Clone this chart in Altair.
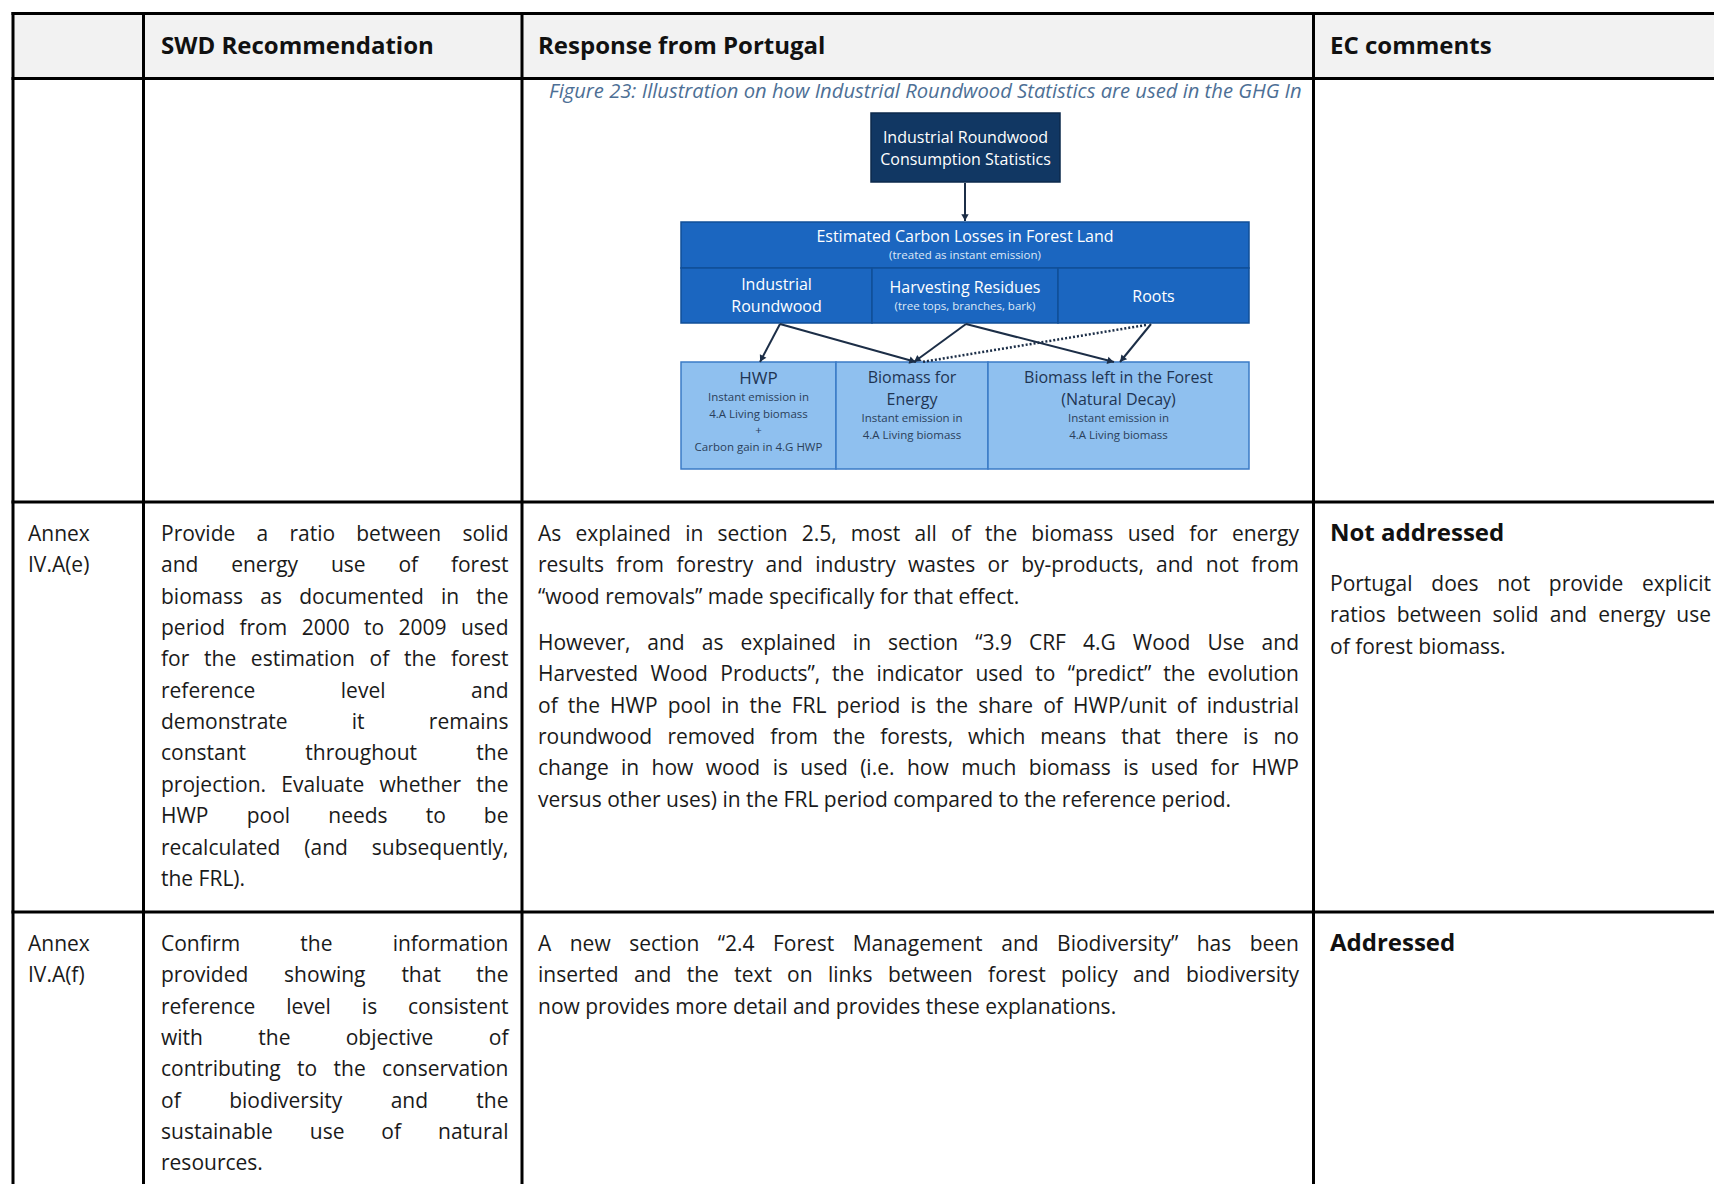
import math
import altair as alt
import pandas as pd

# ------------------------------------------------------------------
# Table content
# ------------------------------------------------------------------
headers = ["SWD Recommendation", "Response from Portugal", "EC comments"]

row_e_id = ["Annex", "IV.A(e)"]
row_e_rec = [
    "Provide a ratio between solid",
    "and energy use of forest",
    "biomass as documented in the",
    "period from 2000 to 2009 used",
    "for the estimation of the forest",
    "reference level and",
    "demonstrate it remains",
    "constant throughout the",
    "projection. Evaluate whether the",
    "HWP pool needs to be",
    "recalculated (and subsequently,",
    "the FRL).",
]
row_e_resp_p1 = [
    "As explained in section 2.5, most all of the biomass used for energy",
    "results from forestry and industry wastes or by-products, and not from",
    "\u201cwood removals\u201d made specifically for that effect.",
]
row_e_resp_p2 = [
    "However, and as explained in section \u201c3.9 CRF 4.G Wood Use and",
    "Harvested Wood Products\u201d, the indicator used to \u201cpredict\u201d the evolution",
    "of the HWP pool in the FRL period is the share of HWP/unit of industrial",
    "roundwood removed from the forests, which means that there is no",
    "change in how wood is used (i.e. how much biomass is used for HWP",
    "versus other uses) in the FRL period compared to the reference period.",
]
row_e_status = "Not addressed"
row_e_comment = [
    "Portugal does not provide explicit",
    "ratios between solid and energy use",
    "of forest biomass.",
]

row_f_id = ["Annex", "IV.A(f)"]
row_f_rec = [
    "Confirm the information",
    "provided showing that the",
    "reference level is consistent",
    "with the objective of",
    "contributing to the conservation",
    "of biodiversity and the",
    "sustainable use of natural",
    "resources.",
]
row_f_resp = [
    "A new section \u201c2.4 Forest Management and Biodiversity\u201d has been",
    "inserted and the text on links between forest policy and biodiversity",
    "now provides more detail and provides these explanations.",
]
row_f_status = "Addressed"

# Figure 23 embedded in the first row
caption = "Figure 23: Illustration on how Industrial Roundwood Statistics are used in the GHG In"
box_names = ["source", "losses", "cell_ir", "cell_hr", "cell_roots", "hwp", "energy", "left"]
box_kind = ["navy", "blue", "blue", "blue", "blue", "light", "light", "light"]
box_main_labels = [
    ["Industrial Roundwood", "Consumption Statistics"],
    ["Estimated Carbon Losses in Forest Land"],
    ["Industrial", "Roundwood"],
    ["Harvesting Residues"],
    ["Roots"],
    ["HWP"],
    ["Biomass for", "Energy"],
    ["Biomass left in the Forest", "(Natural Decay)"],
]
box_sub_labels = [
    [],
    ["(treated as instant emission)"],
    [],
    ["(tree tops, branches, bark)"],
    [],
    ["Instant emission in", "4.A Living biomass", "+", "Carbon gain in 4.G HWP"],
    ["Instant emission in", "4.A Living biomass"],
    ["Instant emission in", "4.A Living biomass"],
]
flows_from = ["source", "cell_ir", "cell_ir", "cell_hr", "cell_hr", "cell_roots", "cell_roots"]
flows_to = ["losses", "hwp", "energy", "energy", "left", "left", "energy"]
flows_dotted = [False, False, False, False, False, False, True]

# ------------------------------------------------------------------
# Layout (page pixel coordinates; chart origin is at page (8, 8))
# ------------------------------------------------------------------
PAGE_W, PAGE_H, MARGIN = 1722, 1192, 8
CW, CH = PAGE_W - 2 * MARGIN, PAGE_H - 2 * MARGIN
X_LO, X_HI = MARGIN, MARGIN + CW
Y_LO, Y_HI = MARGIN, MARGIN + CH

V_LINES = [13, 143.5, 522, 1313.5]
H_LINES = [13.5, 78.5, 502, 912]
TEXT_X = [28, 161, 538, 1330]
TEXT_RIGHT = [None, 508.5, 1299, 1711]
LINE_H = 31.35
HEADER_BASE = 53.5
ROW_TOPS = [502, 912]
FIRST_OFF = 39
BODY_SIZE = 21

# approximate Open Sans advance widths (units per em = 2048), used to justify lines
_ADV = {
    " ": 532, "!": 565, '"': 821, "'": 458, "(": 607, ")": 607, ",": 502, "-": 659,
    ".": 545, "/": 752, ":": 545, ";": 545, "?": 879, "+": 1171,
    "A": 1296, "B": 1327, "C": 1292, "D": 1493, "E": 1139, "F": 1057, "G": 1491,
    "H": 1511, "I": 571, "J": 547, "K": 1257, "L": 1063, "M": 1849, "N": 1544,
    "O": 1595, "P": 1233, "Q": 1595, "R": 1266, "S": 1124, "T": 1133, "U": 1491,
    "V": 1219, "W": 1896, "X": 1182, "Y": 1147, "Z": 1169,
    "a": 1139, "b": 1255, "c": 975, "d": 1255, "e": 1149, "f": 694, "g": 1122,
    "h": 1257, "i": 518, "j": 518, "k": 1075, "l": 518, "m": 1905, "n": 1257,
    "o": 1237, "p": 1255, "q": 1255, "r": 836, "s": 977, "t": 723, "u": 1257,
    "v": 1026, "w": 1593, "x": 1073, "y": 1028, "z": 977,
    "\u201c": 702, "\u201d": 702,
}


def text_width(s, size):
    tot = 0
    for ch in s:
        if ch.isdigit():
            tot += 1171
        else:
            tot += _ADV.get(ch, 1150)
    return tot / 2048.0 * size


xs = alt.Scale(domain=[X_LO, X_HI], nice=False, zero=False)
ys = alt.Scale(domain=[Y_LO, Y_HI], reverse=True, nice=False, zero=False)


def X(f):
    return alt.X(f, type="quantitative", scale=xs, axis=None)


def Y(f):
    return alt.Y(f, type="quantitative", scale=ys, axis=None)


def X2(f):
    return alt.X2(f)


def Y2(f):
    return alt.Y2(f)


# --- header background
hdr_bg = pd.DataFrame([{"x0": V_LINES[0], "x1": X_HI, "y0": H_LINES[0], "y1": H_LINES[1]}])
layer_hdr_bg = alt.Chart(hdr_bg).mark_rect(color="#f2f2f2").encode(
    x=X("x0"), x2=X2("x1"), y=Y("y0"), y2=Y2("y1"))

# --- grid lines
segs = []
for yv in H_LINES:
    segs.append({"x0": V_LINES[0] - 1.5, "x1": X_HI, "y0": yv, "y1": yv})
for xv in V_LINES:
    segs.append({"x0": xv, "x1": xv, "y0": H_LINES[0] - 1.5, "y1": Y_HI})
grid = alt.Chart(pd.DataFrame(segs)).mark_rule(color="#000000", strokeWidth=3).encode(
    x=X("x0"), x2=X2("x1"), y=Y("y0"), y2=Y2("y1"))

# --- diagram geometry
box_geom = {
    "source": (871, 1060, 113, 182),
    "losses": (681, 1249, 222, 268),
    "cell_ir": (681, 872, 268, 323),
    "cell_hr": (872, 1058, 268, 323),
    "cell_roots": (1058, 1249, 268, 323),
    "hwp": (681, 836, 362, 469),
    "energy": (836, 988, 362, 469),
    "left": (988, 1249, 362, 469),
}
kind_fill = {"navy": "#113763", "blue": "#1b66c0", "light": "#8fc0ef"}
kind_stroke = {"navy": "#0c2a4c", "blue": "#114f98", "light": "#3b7bc6"}
kind_main_color = {"navy": "#ffffff", "blue": "#ffffff", "light": "#1f3553"}
kind_sub_color = {"navy": "#e6eef8", "blue": "#dde8f6", "light": "#2b3f5a"}

boxes = []
for n, k in zip(box_names, box_kind):
    x0, x1, y0, y1 = box_geom[n]
    boxes.append({"x0": x0, "x1": x1, "y0": y0, "y1": y1,
                  "fill": kind_fill[k], "stroke": kind_stroke[k]})
layer_boxes = alt.Chart(pd.DataFrame(boxes)).mark_rect(strokeWidth=1.5).encode(
    x=X("x0"), x2=X2("x1"), y=Y("y0"), y2=Y2("y1"),
    fill=alt.Fill("fill:N", scale=None),
    stroke=alt.Stroke("stroke:N", scale=None))

main_y = {
    "source": [138, 160], "losses": [237], "cell_ir": [285, 307], "cell_hr": [288],
    "cell_roots": [297], "hwp": [379], "energy": [378, 400], "left": [378, 400],
}
sub_y = {
    "source": [], "losses": [256], "cell_ir": [], "cell_hr": [307], "cell_roots": [],
    "hwp": [398, 415, 431, 448], "energy": [419, 436], "left": [419, 436],
}
diag_text = []
for n, k, mains, subs in zip(box_names, box_kind, box_main_labels, box_sub_labels):
    x0, x1, y0, y1 = box_geom[n]
    cx = (x0 + x1) / 2
    for t, yy in zip(mains, main_y[n]):
        diag_text.append({"x": cx, "y": yy, "text": t, "size": 17 if t == "HWP" else 16,
                          "color": kind_main_color[k]})
    for t, yy in zip(subs, sub_y[n]):
        diag_text.append({"x": cx, "y": yy, "text": t, "size": 11.5,
                          "color": kind_sub_color[k]})
layer_diag_text = alt.Chart(pd.DataFrame(diag_text)).mark_text(
    align="center", baseline="middle", font="Open Sans").encode(
    x=X("x"), y=Y("y"), text="text:N",
    size=alt.Size("size:Q", scale=None, legend=None),
    color=alt.Color("color:N", scale=None))

anchor_out = {"source": (965, 183), "cell_ir": (780, 324), "cell_hr": (966, 324),
              "cell_roots": (1151, 324)}
anchor_in = {
    ("source", "losses"): (965, 221),
    ("cell_ir", "hwp"): (760, 362),
    ("cell_ir", "energy"): (916, 362),
    ("cell_hr", "energy"): (914, 362),
    ("cell_hr", "left"): (1114, 362),
    ("cell_roots", "left"): (1120, 362),
    ("cell_roots", "energy"): (922, 362),
}
solid, dotted, heads = [], [], []
for a, b, d in zip(flows_from, flows_to, flows_dotted):
    sx, sy = anchor_out[a]
    if d:
        sx, sy = sx - 5, sy + 1
    ex, ey = anchor_in[(a, b)]
    seg = {"x0": sx, "y0": sy, "x1": ex, "y1": ey}
    (dotted if d else solid).append(seg)
    if not d:
        dx, dy = ex - sx, ey - sy
        L = math.hypot(dx, dy)
        ang = math.degrees(math.atan2(dx, -dy)) % 360
        heads.append({"x": ex - dx / L * 3.5, "y": ey - dy / L * 3.5, "angle": ang})
layer_solid = alt.Chart(pd.DataFrame(solid)).mark_rule(color="#1c2e47", strokeWidth=2).encode(
    x=X("x0"), x2=X2("x1"), y=Y("y0"), y2=Y2("y1"))
layer_dotted = alt.Chart(pd.DataFrame(dotted)).mark_rule(
    color="#1c2e47", strokeWidth=2.5, strokeDash=[2, 2]).encode(
    x=X("x0"), x2=X2("x1"), y=Y("y0"), y2=Y2("y1"))
layer_heads = alt.Chart(pd.DataFrame(heads)).mark_point(
    shape="triangle-up", filled=True, size=55, color="#1c2e47", opacity=1).encode(
    x=X("x"), y=Y("y"), angle=alt.Angle("angle:Q", scale=None))

cap_df = pd.DataFrame([{"x": 549, "y": 98, "text": caption}])
layer_caption = alt.Chart(cap_df).mark_text(
    align="left", baseline="alphabetic", font="Open Sans", fontStyle="italic",
    fontSize=20.2, color="#4d6f95").encode(
    x=X("x"), y=Y("y"), text="text:N")

# --- table text (justified like the source document)
regular, bold = [], []
for i, h in enumerate(headers):
    bold.append({"x": TEXT_X[i + 1], "y": HEADER_BASE, "text": h, "align": "left"})


def place_line(lst, x_left, x_right, y, line, justify):
    words = line.split(" ")
    if not justify or x_right is None or len(words) < 2:
        lst.append({"x": x_left, "y": y, "text": line, "align": "left"})
        return
    widths = [text_width(w, BODY_SIZE) for w in words]
    space = text_width(" ", BODY_SIZE)
    gap = (x_right - x_left - sum(widths)) / (len(words) - 1)
    if gap < space:
        lst.append({"x": x_left, "y": y, "text": line, "align": "left"})
        return
    cur = x_left
    for j, (w, wd) in enumerate(zip(words, widths)):
        if j == len(words) - 1:
            lst.append({"x": x_right, "y": y, "text": w, "align": "right"})
        else:
            lst.append({"x": cur, "y": y, "text": w, "align": "left"})
        cur += wd + gap


def add_par(lst, col, y0, lines, justify=True):
    for j, t in enumerate(lines):
        last = j == len(lines) - 1
        place_line(lst, TEXT_X[col], TEXT_RIGHT[col], y0 + j * LINE_H, t, justify and not last)


base_e = ROW_TOPS[0] + FIRST_OFF
add_par(regular, 0, base_e, row_e_id, justify=False)
add_par(regular, 1, base_e, row_e_rec)
add_par(regular, 2, base_e, row_e_resp_p1)
add_par(regular, 2, base_e + 109, row_e_resp_p2)
bold.append({"x": TEXT_X[3], "y": base_e, "text": row_e_status, "align": "left"})
add_par(regular, 3, base_e + 50, row_e_comment)

base_f = ROW_TOPS[1] + FIRST_OFF
add_par(regular, 0, base_f, row_f_id, justify=False)
add_par(regular, 1, base_f, row_f_rec)
add_par(regular, 2, base_f, row_f_resp)
bold.append({"x": TEXT_X[3], "y": base_f, "text": row_f_status, "align": "left"})

reg_df = pd.DataFrame(regular)
layer_reg_left = alt.Chart(reg_df[reg_df["align"] == "left"]).mark_text(
    align="left", baseline="alphabetic", font="Open Sans", fontSize=BODY_SIZE,
    color="#1a1a1a", clip=True).encode(x=X("x"), y=Y("y"), text="text:N")
layer_reg_right = alt.Chart(reg_df[reg_df["align"] == "right"]).mark_text(
    align="right", baseline="alphabetic", font="Open Sans", fontSize=BODY_SIZE,
    color="#1a1a1a", clip=True).encode(x=X("x"), y=Y("y"), text="text:N")
layer_bold = alt.Chart(pd.DataFrame(bold)).mark_text(
    align="left", baseline="alphabetic", font="Open Sans", fontSize=24,
    fontWeight="bold", color="#111111", clip=True).encode(x=X("x"), y=Y("y"), text="text:N")

chart = alt.layer(
    layer_hdr_bg, layer_boxes, layer_solid, layer_dotted, layer_heads,
    layer_diag_text, layer_caption, grid, layer_reg_left, layer_reg_right, layer_bold,
).properties(
    width=CW, height=CH, padding=0, autosize=alt.AutoSizeParams(type="none"),
    background="#ffffff",
).configure_view(stroke=None)

chart.save("out.html", embed_options={"renderer": "svg", "actions": False})
